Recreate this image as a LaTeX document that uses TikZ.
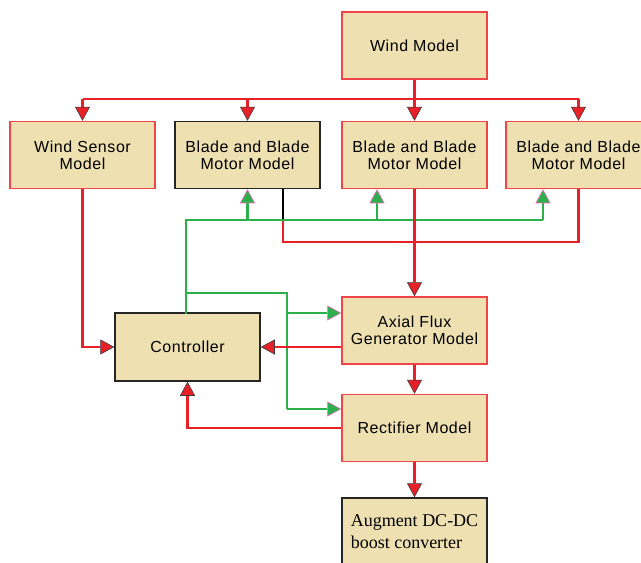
\documentclass[tikz,border=0pt]{standalone}
\usepackage{fontspec}
\setmainfont{Liberation Sans}[LetterSpace=3.5]
\newfontfamily\serifx{Liberation Serif}
\usetikzlibrary{arrows.meta}
\definecolor{boxfill}{HTML}{EEE0B0}
\definecolor{lred}{HTML}{E82128}
\definecolor{bred}{HTML}{EE4646}
\definecolor{lgreen}{HTML}{2DB04B}
\definecolor{tipedge}{HTML}{3A3A3A}
\begin{document}
\begin{tikzpicture}[x=1pt,y=-1pt,
  box/.style={draw=bred, line width=1.5pt, fill=boxfill, minimum width=145pt, minimum height=67pt,
              align=center, inner sep=0pt, font=\fontsize{16}{16.8}\selectfont},
  bbox/.style={box, draw=black!85},
  rl/.style={draw=lred, line width=2.6pt},
  gl/.style={draw=lgreen, line width=2.5pt},
  ra/.style={rl, -{Triangle[length=14pt,width=15pt,fill=lred,color=tipedge,line width=0.6pt]}},
  ga/.style={gl, -{Triangle[length=14pt,width=15pt,fill=lgreen,color=magenta!60,line width=0.6pt]}}
]
\useasboundingbox[fill=white] (0,0) rectangle (641,563);

% boxes
\node[box]  (wind) at (414.5,45.5) {Wind Model};
\node[box]  (ws)   at (82.5,155)   {Wind Sensor\\Model};
\node[bbox] (b1)   at (247.5,155)  {Blade and Blade\\Motor Model};
\node[box]  (b2)   at (414.5,155)  {Blade and Blade\\Motor Model};
\node[box]  (b3)   at (578.5,155)  {Blade and Blade\\Motor Model};
\node[bbox, minimum height=68pt] (ctrl) at (187.5,347) {Controller};
\node[box]  (axial) at (414.5,330.5) {Axial Flux\\Generator Model};
\node[box]  (rect)  at (414.5,428)   {Rectifier Model};
\node[bbox, align=left, font=\serifx\fontsize{18}{22}\selectfont] (aug) at (414.5,531.5) {Augment DC-DC\\boost converter};

% coordinates
\coordinate (top) at (414.5,99);
\coordinate (b1o) at (283,189);
\coordinate (b1k) at (283,221);
\coordinate (rbus) at (283,242);
\coordinate (gbus) at (186,220);
\coordinate (g2) at (377,220);
\coordinate (g3) at (543,220);
\coordinate (ctop) at (186,313.5);
\coordinate (gsplit) at (186,293);
\coordinate (gv) at (287,293);
\coordinate (ga1) at (287,313);
\coordinate (ga2) at (287,409);

% wind distribution
\draw[rl] (wind.south) -- (top);
\draw[rl] (ws.north |- top) -- (b3.north |- top);
\draw[ra] (ws.north |- top) -- (ws.north);
\draw[ra] (b1.north |- top) -- (b1.north);
\draw[ra] (top) -- (b2.north);
\draw[ra] (b3.north |- top) -- (b3.north);

% blade outputs to generator
\draw[black, line width=2.6pt] (b1o) -- (b1k);
\draw[rl] (b1k) -- (rbus) -- (rbus -| b3.south) -- (b3.south);

% green control lines
\draw[gl] (ctop) -- (gbus) -- (g3);
\draw[ga] (gbus -| b1.south) -- (b1.south);
\draw[ga] (g2) -- (g2 |- b2.south);
\draw[ga] (g3) -- (g3 |- b3.south);
\draw[gl] (gsplit) -- (gv) -- (ga2);
\draw[ga] (ga1) -- (ga1 -| axial.west);
\draw[ga] (ga2) -- (ga2 -| rect.west);

\draw[ra] (b2.south) -- (axial.north);

% red signal lines
\draw[ra] (ws.south) |- (ctrl.west);
\draw[ra] (axial.west |- ctrl.east) -- (ctrl.east);
\draw[ra] (axial.south) -- (rect.north);
\draw[ra] (rect.west) -| (ctrl.south);
\draw[ra] (rect.south) -- (aug.north);
\end{tikzpicture}
\end{document}
